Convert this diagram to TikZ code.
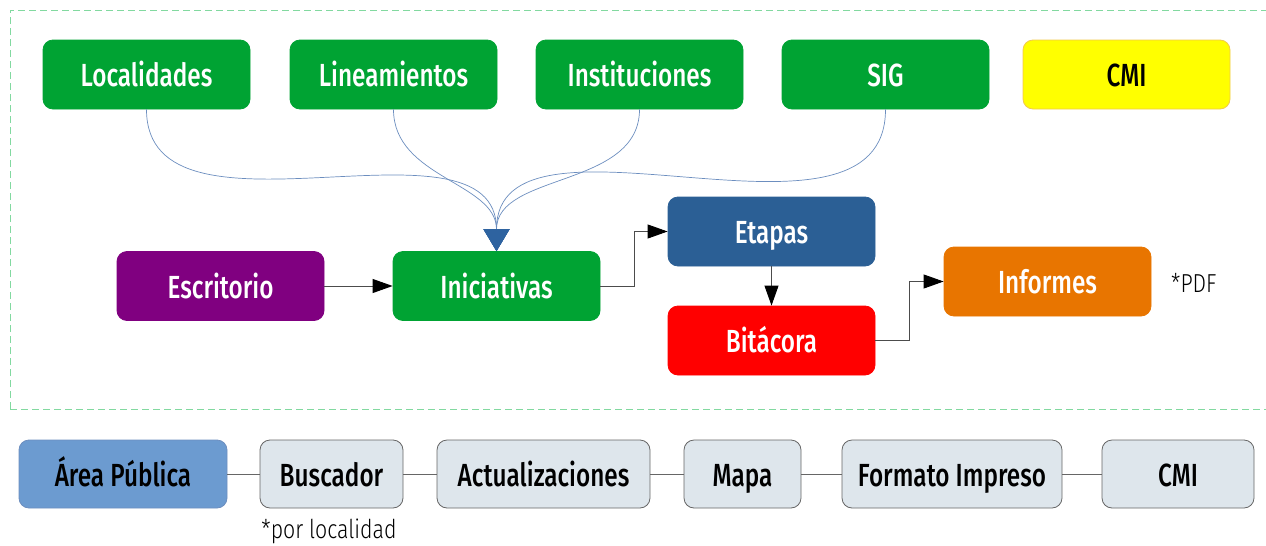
\documentclass[tikz,border=0pt]{standalone}
\usepackage{fontspec}
\setmainfont{Fira Sans}[FakeStretch=0.76, BoldFont={Fira Sans Medium}, BoldFeatures={FakeStretch=0.76}]
\newfontfamily\notefont{Fira Sans Light}[FakeStretch=0.82]
\usetikzlibrary{arrows.meta}
\definecolor{gr}{HTML}{00A333}
\definecolor{pu}{HTML}{800080}
\definecolor{bl}{HTML}{2B5F95}
\definecolor{rd}{HTML}{FF0000}
\definecolor{og}{HTML}{E87500}
\definecolor{ye}{HTML}{FFFF00}
\definecolor{yeb}{HTML}{F2C94C}
\definecolor{ap}{HTML}{6C9BD0}
\definecolor{apb}{HTML}{6C8EBF}
\definecolor{lg}{HTML}{DEE6EC}
\definecolor{dsh}{HTML}{82D9A0}
\definecolor{cv}{HTML}{6C8EBF}
\definecolor{tip}{HTML}{2E63A0}
\tikzset{
  box/.style={rounded corners=10pt, minimum width=207pt, minimum height=69pt, inner sep=0pt,
    text height=24pt, text depth=0pt,
    font=\bfseries\fontsize{32}{36}\selectfont, text=white, line width=0.8pt},
  lbox/.style={rounded corners=10pt, minimum height=68pt, inner sep=0pt,
    text height=24pt, text depth=0pt,
    font=\bfseries\fontsize{32}{36}\selectfont, text=black, fill=lg, draw=black!60, line width=0.8pt},
  curve/.style={draw=cv, line width=0.7pt, -{Triangle[width=26pt,length=22pt,fill=tip,color=tip]}},
  conn/.style={draw=black!70, line width=0.9pt, -{Triangle[width=14pt,length=20pt,fill=black,color=black]}},
  plain/.style={draw=black!60, line width=0.9pt},
  note/.style={font=\notefont\fontsize{26}{30}\selectfont, text=black, inner sep=0pt}
}
\begin{document}
\begin{tikzpicture}[x=1pt,y=-1pt]
\useasboundingbox (0,0) rectangle (1266,546);
\draw[dsh, line width=0.8pt, dash pattern=on 7pt off 4pt] (10,409) -- (10,10) -- (1275,10);
\draw[dsh, line width=0.8pt, dash pattern=on 7pt off 4pt] (10,409) -- (1275,409);

\node[box, fill=gr, draw=gr] (loc) at (146.5,74.5) {Localidades};
\node[box, fill=gr, draw=gr] (lin) at (393.5,74.5) {Lineamientos};
\node[box, fill=gr, draw=gr] (ins) at (639.5,74.5) {Instituciones};
\node[box, fill=gr, draw=gr] (sig) at (885.5,74.5) {SIG};
\node[box, fill=ye, draw=yeb, text=black] (cmi) at (1126.5,74.5) {CMI};

\node[box, fill=pu, draw=pu] (esc) at (220.5,286) {Escritorio};
\node[box, fill=gr, draw=gr] (ini) at (496.5,286) {Iniciativas};
\node[box, fill=bl, draw=bl] (eta) at (771.5,231.5) {Etapas};
\node[box, fill=rd, draw=rd] (bit) at (771.5,340.5) {Bitácora};
\node[box, fill=og, draw=og] (inf) at (1047.5,281.5) {Informes};
\node[note, anchor=west] (pdf) at (1171,283) {*PDF};

\draw[curve] (loc.south) to[out=-90,in=90] (ini.north);
\draw[curve] (lin.south) to[out=-90,in=90] (ini.north);
\draw[curve] (ins.south) to[out=-90,in=90] (ini.north);
\draw[curve] (sig.south) to[out=-90,in=90] (ini.north);

\draw[conn] (esc.east) -- (ini.west);
\draw[conn] (ini.east) -- ++(34,0) |- (eta.west);
\draw[conn] (eta.south) -- (bit.north);
\draw[conn] (bit.east) -- ++(34,0) |- (inf.west);

\node[lbox, fill=ap, draw=apb, minimum width=208pt] (apu) at (123,474) {Área Pública};
\node[lbox, minimum width=143pt] (bus) at (331.5,474) {Buscador};
\node[lbox, minimum width=213pt] (act) at (543.5,474) {Actualizaciones};
\node[lbox, minimum width=117pt] (map) at (742.5,474) {Mapa};
\node[lbox, minimum width=220pt] (fmt) at (952,474) {Formato Impreso};
\node[lbox, minimum width=152pt] (cmb) at (1178,474) {CMI};
\node[note, anchor=north] (loc2) at (329,519) {*por localidad};

\draw[plain] (apu) -- (bus);
\draw[plain] (bus) -- (act);
\draw[plain] (act) -- (map);
\draw[plain] (map) -- (fmt);
\draw[plain] (fmt) -- (cmb);
\end{tikzpicture}
\end{document}
